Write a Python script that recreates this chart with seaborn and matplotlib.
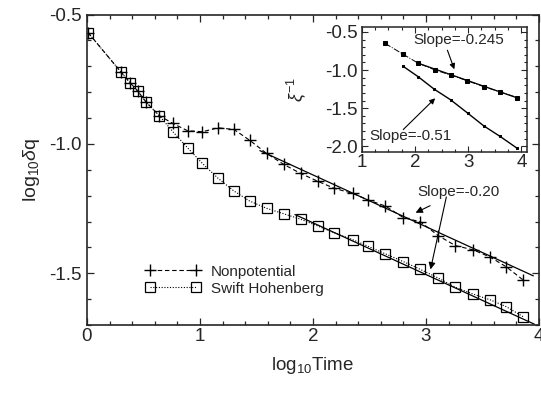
import numpy as np
import pandas as pd
import matplotlib
matplotlib.use("Agg")
import matplotlib.pyplot as plt
import seaborn as sns
from matplotlib.ticker import MultipleLocator

sns.set_style("ticks")
plt.rcParams['font.family'] = ['Liberation Sans', 'DejaVu Sans']
plt.rcParams['mathtext.fontset'] = 'custom'
plt.rcParams['mathtext.rm'] = 'Liberation Sans'
plt.rcParams['mathtext.it'] = 'Liberation Sans:italic'

# ---- main data (log10 time, log10 dq) ----
log_time = [0.01, 0.30, 0.38, 0.45, 0.52, 0.64, 0.76, 0.89, 1.02, 1.16, 1.30, 1.44,
            1.59, 1.74, 1.89, 2.04, 2.19, 2.35, 2.49, 2.64, 2.80, 2.95, 3.11, 3.26,
            3.42, 3.57, 3.71, 3.86]
nonpotential = [-0.570, -0.722, -0.763, -0.796, -0.837, -0.891, -0.921, -0.949, -0.953,
                -0.938, -0.944, -0.986, -1.037, -1.079, -1.114, -1.144, -1.172, -1.191,
                -1.217, -1.240, -1.285, -1.301, -1.355, -1.393, -1.410, -1.438, -1.475,
                -1.526]
swift_hohenberg = [-0.570, -0.722, -0.763, -0.796, -0.837, -0.891, -0.953, -1.015, -1.075,
                   -1.133, -1.182, -1.221, -1.249, -1.270, -1.291, -1.317, -1.344, -1.370,
                   -1.396, -1.425, -1.455, -1.485, -1.519, -1.554, -1.581, -1.603, -1.629,
                   -1.668]
fit_np_x = [1.53, 3.95]
fit_np_y = [-1.026, -1.510]
fit_sh_x = [1.84, 3.96]
fit_sh_y = [-1.273, -1.697]

# ---- inset data (xi^-1) ----
inset_x_up = [1.44, 1.77, 2.06, 2.38, 2.67, 2.98, 3.29, 3.60, 3.92]
inset_y_up = [-0.651, -0.79, -0.91, -1.00, -1.065, -1.14, -1.217, -1.286, -1.36]
inset_fit_up_x = [2.06, 3.92]
inset_fit_up_y = [-0.910, -1.365]
inset_x_lo = [1.77, 2.06, 2.36, 2.67, 2.99, 3.29, 3.60, 3.91]
inset_y_lo = [-0.947, -1.087, -1.25, -1.39, -1.564, -1.73, -1.87, -2.02]

df = pd.DataFrame({"t": log_time, "np": nonpotential, "sh": swift_hohenberg})

fig = plt.figure(figsize=(5.41, 3.93), dpi=100)
ax = fig.add_axes([0.1608, 0.173, 0.8355, 0.790])

sns.lineplot(data=df, x="t", y="np", ax=ax, color="k", linestyle=(0, (4, 2.5)), lw=0.8,
             marker="+", markersize=9, markeredgewidth=1.0, markeredgecolor="k",
             label="Nonpotential")
sns.lineplot(data=df, x="t", y="sh", ax=ax, color="k", linestyle=(0, (1, 1.5)), lw=0.8,
             marker="s", markersize=6.5, markerfacecolor="none", markeredgecolor="k",
             markeredgewidth=0.9, label="Swift Hohenberg")
sns.lineplot(x=fit_np_x, y=fit_np_y, ax=ax, color="k", lw=0.9, legend=False)
sns.lineplot(x=fit_sh_x, y=fit_sh_y, ax=ax, color="k", lw=0.9, legend=False)

ax.set_xlim(0, 4)
ax.set_ylim(-1.7, -0.5)
ax.xaxis.set_major_locator(MultipleLocator(1))
ax.xaxis.set_minor_locator(MultipleLocator(0.2))
ax.yaxis.set_major_locator(MultipleLocator(0.5))
ax.yaxis.set_minor_locator(MultipleLocator(0.1))
ax.set_xticks([0, 1, 2, 3, 4])
ax.set_xticklabels(["0", "1", "2", "3", "4"])
ax.set_yticks([-1.5, -1.0, -0.5])
ax.set_yticklabels(["-1.5", "-1.0", "-0.5"])
ax.tick_params(which="both", direction="in", top=True, right=True, labelsize=13.5, width=0.9)
ax.tick_params(which="major", length=5, pad=2)
ax.tick_params(which="minor", length=3)
ax.tick_params(axis="y", pad=4)
for s in ax.spines.values():
    s.set_linewidth(1.2)
ax.set_xlabel(r"log$_{10}$Time", fontsize=13.5, labelpad=7)
ax.set_ylabel(r"log$_{10}\delta$q", fontsize=14, labelpad=5)

leg = ax.legend(loc="lower left", bbox_to_anchor=(0.115, 0.075), frameon=False, fontsize=11,
                handlelength=3.6, handletextpad=0.7, labelspacing=0.2, borderaxespad=0,
                numpoints=2)

ax.annotate("Slope=-0.20", xy=(2.908, -1.266), xytext=(3.29, -1.185), fontsize=11,
            ha="center", va="center",
            arrowprops=dict(arrowstyle="-|>", color="k", lw=0.8, shrinkA=6, shrinkB=0,
                            mutation_scale=10))
ax.annotate("", xy=(3.04, -1.485), xytext=(3.18, -1.205),
            arrowprops=dict(arrowstyle="-|>", color="k", lw=0.8, shrinkA=0, shrinkB=0,
                            mutation_scale=10))

# ---- inset ----
ins = fig.add_axes([0.6686, 0.614, 0.305, 0.3165])
ins.set_facecolor("white")
sns.lineplot(x=inset_x_up, y=inset_y_up, ax=ins, color="k", lw=0.7, linestyle="-.",
             marker="s", markersize=2.2, markeredgecolor="k", legend=False)
sns.lineplot(x=inset_fit_up_x, y=inset_fit_up_y, ax=ins, color="k", lw=0.9, legend=False)
sns.lineplot(x=inset_x_lo, y=inset_y_lo, ax=ins, color="k", lw=1.0,
             marker="s", markersize=2.0, markeredgecolor="k", legend=False)
ins.set_xlim(1, 4.1)
ins.set_ylim(-2.07, -0.44)
ins.set_xticks([1, 2, 3, 4])
ins.set_xticklabels(["1", "2", "3", "4"])
ins.set_yticks([-2.0, -1.5, -1.0, -0.5])
ins.set_yticklabels(["-2.0", "-1.5", "-1.0", "-0.5"])
ins.xaxis.set_minor_locator(MultipleLocator(0.25))
ins.yaxis.set_minor_locator(MultipleLocator(0.1))
ins.tick_params(which="both", direction="in", top=True, right=True, labelsize=13.5, width=0.8)
ins.tick_params(which="major", length=4, pad=2)
ins.tick_params(which="minor", length=2)
ins.tick_params(axis="y", pad=3)
for s in ins.spines.values():
    s.set_linewidth(1.1)
ins.set_xlabel("")
ins.set_ylabel(r"$\xi^{-1}$", fontsize=13, labelpad=12)
ins.text(2.82, -0.6, "Slope=-0.245", fontsize=11, ha="center", va="center")
ins.annotate("", xy=(2.74, -0.99), xytext=(2.61, -0.74),
             arrowprops=dict(arrowstyle="-|>", color="k", lw=0.8, shrinkA=0, shrinkB=0,
                             mutation_scale=8))
ins.text(1.91, -1.87, "Slope=-0.51", fontsize=11, ha="center", va="center")
ins.annotate("", xy=(2.38, -1.37), xytext=(1.78, -1.78),
             arrowprops=dict(arrowstyle="-|>", color="k", lw=0.8, shrinkA=0, shrinkB=0,
                             mutation_scale=8))

fig.savefig("out.png", dpi=100)
